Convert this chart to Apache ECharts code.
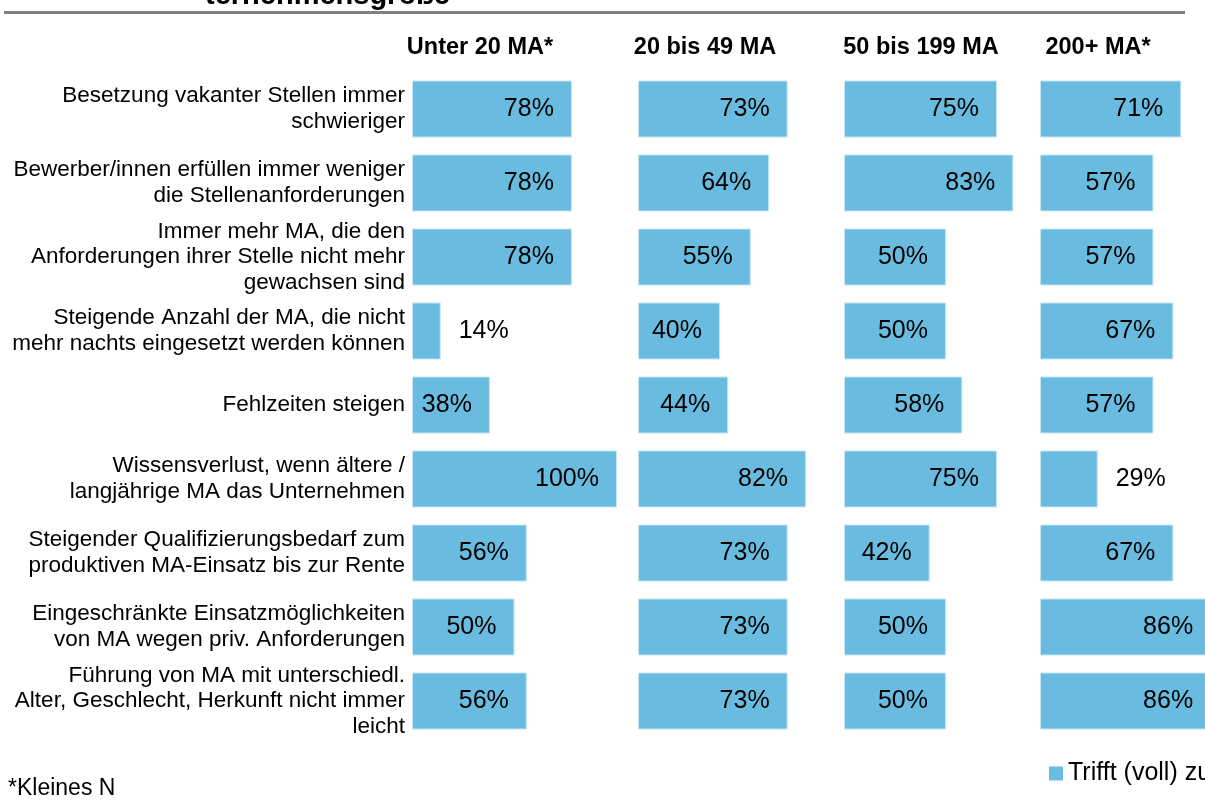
<!DOCTYPE html>
<html>
<head>
<meta charset="utf-8">
<script src="https://cdn.jsdelivr.net/npm/echarts@6/dist/echarts.min.js"></script>
<style>
  html, body { margin: 0; padding: 0; background: #fff; }
  #chart { width: 1205px; height: 809px; }
</style>
</head>
<body>
<div id="chart"></div>
<script>
// Kategorien (von oben nach unten)
var categories = [
  "Besetzung vakanter Stellen immer\nschwieriger",
  "Bewerber/innen erfüllen immer weniger\ndie Stellenanforderungen",
  "Immer mehr MA, die den\nAnforderungen ihrer Stelle nicht mehr\ngewachsen sind",
  "Steigende Anzahl der MA, die nicht\nmehr nachts eingesetzt werden können",
  "Fehlzeiten steigen",
  "Wissensverlust, wenn ältere /\nlangjährige MA das Unternehmen",
  "Steigender Qualifizierungsbedarf zum\nproduktiven MA-Einsatz bis zur Rente",
  "Eingeschränkte Einsatzmöglichkeiten\nvon MA wegen priv. Anforderungen",
  "Führung von MA mit unterschiedl.\nAlter, Geschlecht, Herkunft nicht immer\nleicht"
];
var groups = ["Unter 20 MA*", "20 bis 49 MA", "50 bis 199 MA", "200+ MA*"];
var seriesName = "Trifft (voll) zu";

// Werte je Unternehmensgröße (%)
var unter20 = [78, 78, 78, 14, 38, 100, 56, 50, 56];
var von20bis49 = [73, 64, 55, 40, 44, 82, 73, 73, 73];
var von50bis199 = [75, 83, 50, 50, 58, 75, 42, 50, 50];
var ab200 = [71, 57, 57, 67, 57, 29, 67, 86, 86];
var panelValues = [unter20, von20bis49, von50bis199, ab200];

var FONT = "'Liberation Sans', Arial, sans-serif";
var BAR = "#69bce0";

var gridLefts = [412, 638, 844, 1040];
var gridWidths = [205, 205, 204, 199];
var headerX = [480, 705, 921, 1098];

var myChart = echarts.init(document.getElementById("chart"));

var grids = [], xAxes = [], yAxes = [], series = [], graphics = [];

gridLefts.forEach(function (left, i) {
  grids.push({
    left: left, top: 72, width: gridWidths[i], height: 666,
    outerBoundsMode: "none"
  });
  xAxes.push({ gridIndex: i, type: "value", min: 0, max: 100, show: false });
  yAxes.push({
    gridIndex: i,
    type: "category",
    inverse: true,
    data: categories,
    show: i === 0,
    axisLine: { show: false },
    axisTick: { show: false },
    axisLabel: {
      show: i === 0,
      interval: 0,
      margin: 7,
      align: "right",
      color: "#000",
      fontFamily: FONT,
      fontSize: 22.5,
      lineHeight: 25.5
    }
  });
  series.push({
    name: seriesName,
    type: "bar",
    xAxisIndex: i,
    yAxisIndex: i,
    barWidth: 57,
    animation: false,
    itemStyle: { color: BAR, borderColor: "#c4e5f4", borderWidth: 1 },
    label: {
      show: true,
      position: "insideRight",
      distance: 18,
      formatter: "{c}%",
      color: "#000",
      fontFamily: FONT,
      fontSize: 25
    },
    data: panelValues[i].map(function (v) {
      // kurze Balken: Beschriftung rechts daneben
      if (v < 30) {
        return { value: v, label: { position: "right", distance: 18 } };
      }
      return v;
    })
  });
  graphics.push({
    type: "text",
    x: headerX[i],
    y: 48,
    style: {
      text: groups[i],
      align: "center",
      verticalAlign: "middle",
      fill: "#000",
      font: "bold 23.5px " + FONT
    }
  });
});

// abgeschnittener Titel + Linie
graphics.push({
  type: "text",
  x: 205,
  y: 10,
  style: {
    text: "ternehmensgröße",
    align: "left",
    verticalAlign: "bottom",
    fill: "#000",
    font: "bold 29px " + FONT
  }
});
graphics.push({
  type: "line",
  shape: { x1: 4, y1: 12.5, x2: 1185, y2: 12.5 },
  style: { stroke: "#808080", lineWidth: 3 }
});
graphics.push({
  type: "text",
  x: 8,
  y: 789,
  style: {
    text: "*Kleines N",
    verticalAlign: "middle",
    fill: "#000",
    font: "23px " + FONT
  }
});

myChart.setOption({
  backgroundColor: "#fff",
  animation: false,
  grid: grids,
  xAxis: xAxes,
  yAxis: yAxes,
  legend: {
    data: [seriesName],
    left: 1044,
    top: 756,
    icon: "rect",
    itemWidth: 14,
    itemHeight: 14,
    itemStyle: { borderWidth: 0 },
    textStyle: { color: "#000", fontFamily: FONT, fontSize: 25 }
  },
  graphic: graphics,
  series: series
});
</script>
</body>
</html>
